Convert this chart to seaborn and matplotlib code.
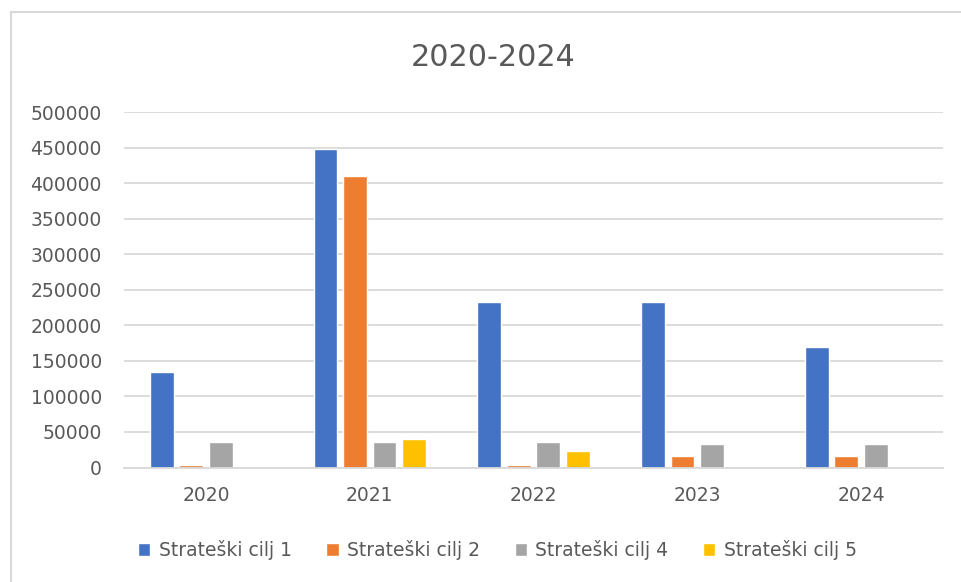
import pandas as pd
import seaborn as sns
import matplotlib.pyplot as plt
from matplotlib.patches import Rectangle

sns.set_style("white")
plt.rcParams['font.family'] = ['DejaVu Sans']

years = ['2020', '2021', '2022', '2023', '2024']
cilj_1 = [134000, 448000, 233000, 233000, 170000]
cilj_2 = [3500, 410000, 3500, 16400, 16400]
cilj_4 = [36500, 36000, 36000, 32400, 32400]
cilj_5 = [0, 39500, 23400, 0, 0]
series_names = ['Strateški cilj 1', 'Strateški cilj 2', 'Strateški cilj 4', 'Strateški cilj 5']
colors = ['#4472C4', '#ED7D31', '#A5A5A5', '#FFC000']

rows = []
for name, values in zip(series_names, [cilj_1, cilj_2, cilj_4, cilj_5]):
    for year, v in zip(years, values):
        rows.append({'year': year, 'value': v, 'series': name})
df = pd.DataFrame(rows)

text_color = '#595959'
grid_color = '#D9D9D9'

fig = plt.figure(figsize=(9.61, 5.82), dpi=100)
ax = fig.add_axes([124 / 961, 1 - 467.5 / 582, (943 - 124) / 961, (467.5 - 112.3) / 582])

sns.barplot(data=df, x='year', y='value', hue='series', palette=colors,
            width=0.72, gap=0.19, saturation=1, ax=ax, errorbar=None)

ax.set_ylim(0, 500000)
ax.set_yticks(range(0, 500001, 50000))
ax.set_xlabel('')
ax.set_ylabel('')
ax.yaxis.grid(True, color=grid_color, linewidth=1.3)
ax.set_axisbelow(True)
for side in ['top', 'right', 'left']:
    ax.spines[side].set_visible(False)
ax.spines['bottom'].set_color(grid_color)
ax.spines['bottom'].set_linewidth(1.3)
ax.tick_params(axis='y', length=0, pad=16, labelsize=13.5, labelcolor=text_color)
ax.tick_params(axis='x', length=0, pad=13, labelsize=13.5, labelcolor=text_color)

fig.text(493 / 961, 1 - 58 / 582, '2020-2024', ha='center', va='center',
         fontsize=21.7, color=text_color)

handles, labels = ax.get_legend_handles_labels()
ax.get_legend().remove()
fig.legend(handles, labels, loc='center', bbox_to_anchor=(497.5 / 961, 1 - 550 / 582), ncol=4,
           frameon=False, fontsize=13.5, labelcolor=text_color,
           handlelength=0.65, handleheight=0.65, handletextpad=0.45, columnspacing=1.85)

# chart frame
fig.patches.append(Rectangle((11 / 961, -0.1), 1.2, 1 - 12 / 582 + 0.1, transform=fig.transFigure,
                             fill=False, edgecolor=grid_color, linewidth=1.5))

fig.savefig('out.png', dpi=100)
